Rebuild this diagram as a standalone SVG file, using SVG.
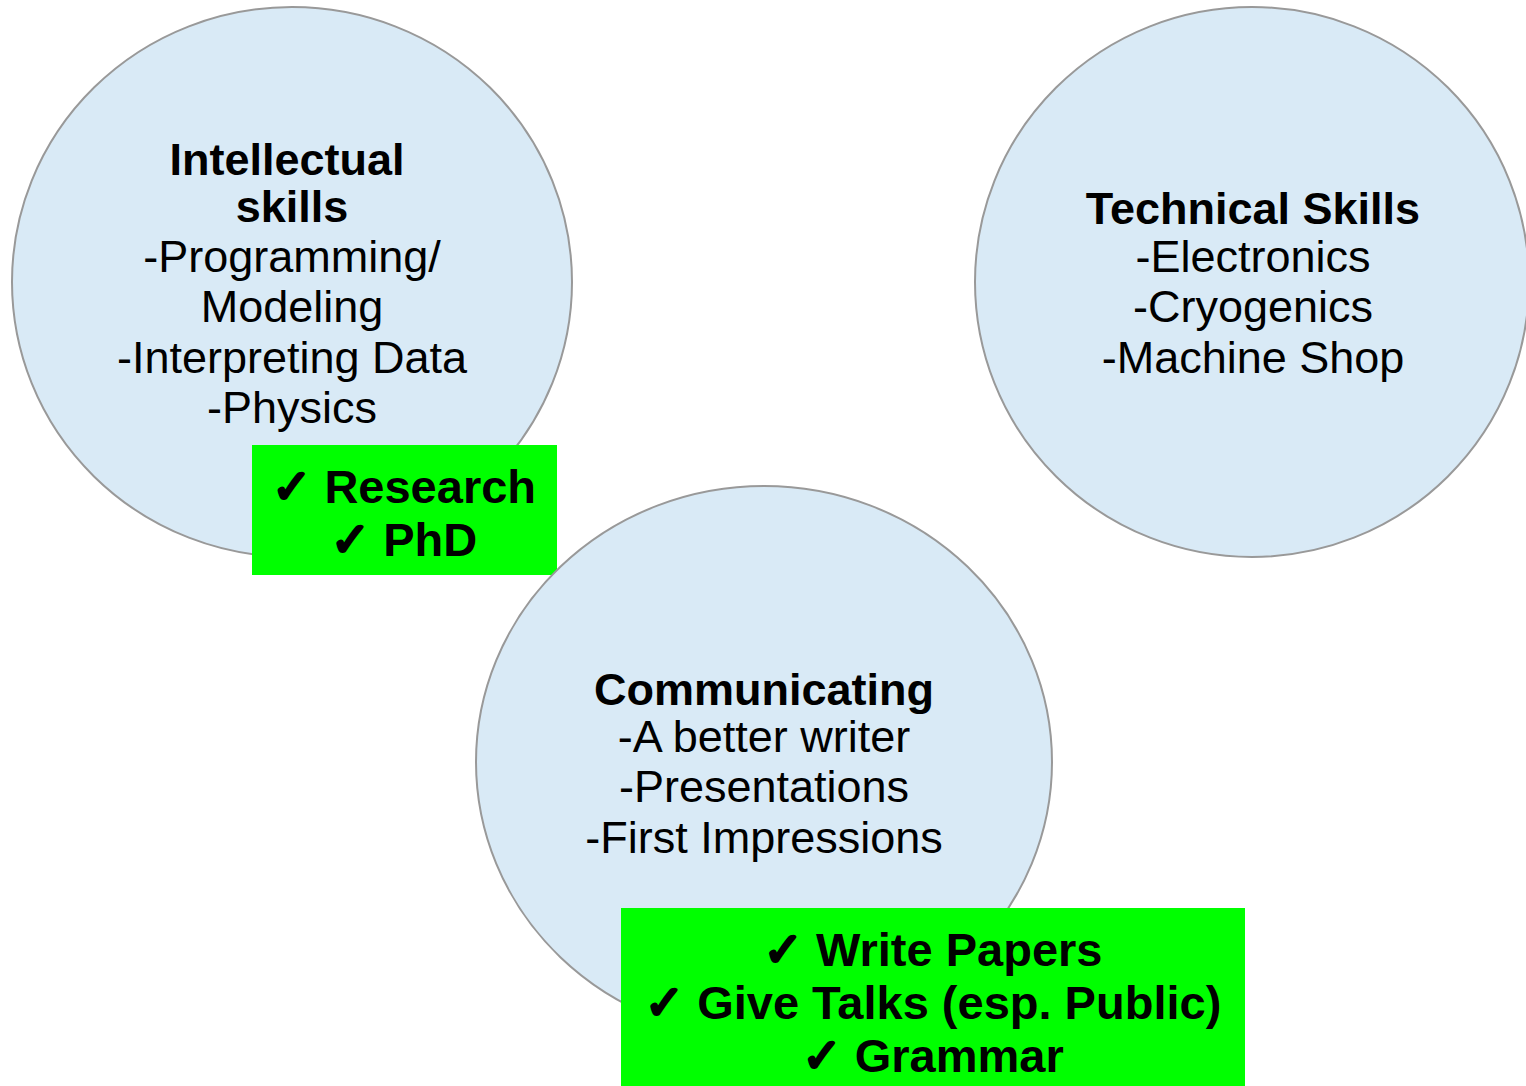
<svg xmlns="http://www.w3.org/2000/svg" width="1526" height="1086" viewBox="0 0 1526 1086">
<style>
.c{fill:#d9eaf6;stroke:#999999;stroke-width:2}
.t{font-family:"Liberation Sans",Arial,"DejaVu Sans",sans-serif;font-size:45px;fill:#000;text-anchor:middle}
.b{font-weight:bold}
.g{fill:#00ff00}
.k{font-family:"Liberation Sans",Arial,"DejaVu Sans",sans-serif;font-size:47px;font-weight:bold;fill:#000;text-anchor:middle}
.m{font-family:"DejaVu Sans",sans-serif;font-weight:bold;stroke:#000;stroke-width:3;stroke-linejoin:round}
</style>
<rect width="1526" height="1086" fill="#ffffff"/>
<g id="connectors"></g>
<g id="intellectual">
<ellipse class="c" cx="292" cy="282" rx="280" ry="275"/>
<text class="t b" x="287" y="175">Intellectual</text>
<text class="t b" x="292" y="222">skills</text>
<text class="t" x="292" y="272">-Programming/</text>
<text class="t" x="292" y="322">Modeling</text>
<text class="t" x="292" y="373">-Interpreting Data</text>
<text class="t" x="292" y="423">-Physics</text>
</g>
<g id="technical">
<ellipse class="c" cx="1252" cy="282" rx="277" ry="275"/>
<text class="t b" x="1253" y="224">Technical Skills</text>
<text class="t" x="1253" y="272">-Electronics</text>
<text class="t" x="1253" y="322">-Cryogenics</text>
<text class="t" x="1253" y="373">-Machine Shop</text>
</g>
<g id="research-box">
<rect class="g" x="252" y="445" width="305" height="130"/>
<text class="k" x="404" y="503"><tspan class="m">✓</tspan> Research</text>
<text class="k" x="404" y="556"><tspan class="m">✓</tspan> PhD</text>
</g>
<g id="communicating">
<ellipse class="c" cx="764" cy="762" rx="288" ry="276"/>
<text class="t b" x="764" y="705">Communicating</text>
<text class="t" x="764" y="752">-A better writer</text>
<text class="t" x="764" y="802">-Presentations</text>
<text class="t" x="764" y="853">-First Impressions</text>
</g>
<g id="communicating-box">
<rect class="g" x="621" y="908" width="624" height="178"/>
<text class="k" x="933" y="966"><tspan class="m">✓</tspan> Write Papers</text>
<text class="k" x="933" y="1019"><tspan class="m">✓</tspan> Give Talks (esp. Public)</text>
<text class="k" x="933" y="1072"><tspan class="m">✓</tspan> Grammar</text>
</g>
</svg>
